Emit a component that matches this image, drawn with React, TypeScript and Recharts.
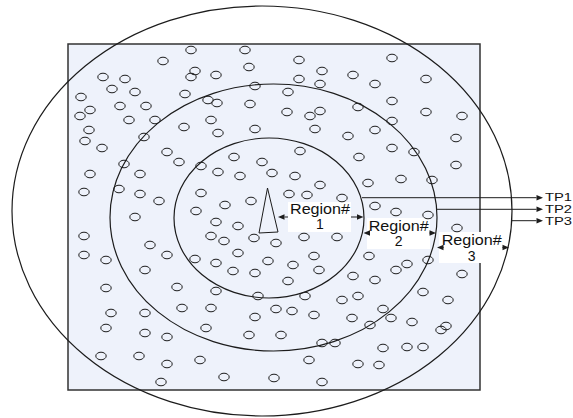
import React from 'react';
import { ScatterChart, Scatter, XAxis, YAxis, ReferenceArea, ReferenceLine } from 'recharts';

const W = 573;
const H = 418;

// Sensor node positions (pixel-like units of the figure)
const nodeX = [
  191, 245, 163, 195, 191, 216, 249, 103, 125, 112, 135, 255, 185, 81, 208, 217, 250, 120, 146, 90,
  80, 129, 155, 211, 184, 255, 89, 218, 144, 85, 102, 167, 179, 234, 262, 124, 201, 218, 240, 272,
  90, 140, 119, 84, 140, 201, 159, 251, 225, 196, 288, 287, 289,
  299, 392, 322, 299, 353, 375, 426, 320, 392, 358, 426, 462, 320, 310, 315, 348, 375, 392, 456, 392,
  414, 300, 359, 456, 295, 320, 368, 401, 432, 307, 342, 375, 396, 428,
  135, 216, 238, 84, 211, 224, 254, 276, 150, 84, 106, 167, 195, 238, 216, 268, 293, 145, 233, 255,
  288, 106, 177, 216, 258, 111, 145, 182, 211, 276, 292, 255, 106, 145, 167, 206, 249, 281, 101, 139,
  167, 200, 224, 274, 161,
  457, 304, 337, 314, 319, 369, 353, 375, 396, 407, 428, 462, 305, 342, 358, 423, 448, 314, 352, 383,
  391, 370, 412, 446, 441, 322, 335, 383, 407, 423, 309, 358, 379, 322,
];
const nodeY = [
  50, 50, 61, 71, 77, 75, 67, 77, 79, 89, 92, 86, 94, 97, 100, 103, 104, 106, 106, 110,
  116, 120, 120, 120, 127, 129, 130, 133, 137, 141, 148, 152, 162, 157, 162, 164, 166, 172, 176, 173,
  174, 174, 189, 192, 194, 193, 201, 201, 205, 211, 92, 112, 194,
  60, 58, 71, 79, 75, 84, 79, 84, 101, 107, 112, 116, 111, 116, 129, 136, 130, 121, 138, 148,
  152, 151, 157, 165, 176, 185, 183, 179, 180, 195, 198, 206, 212, 215,
  217, 222, 226, 236, 236, 241, 238, 243, 245, 255, 260, 255, 259, 253, 263, 261, 265, 270, 271, 273,
  281, 288, 287, 291, 296, 313, 313, 308, 308, 309, 311, 317, 328, 333, 337, 328, 335, 335, 356, 356,
  364, 360, 377, 378, 382,
  228, 237, 237, 256, 270, 256, 276, 280, 270, 264, 260, 274, 296, 300, 296, 292, 300, 315, 318, 309,
  318, 325, 322, 326, 330, 343, 343, 348, 347, 347, 360, 364, 365, 382,
];

// Square field
const fieldX = [68, 480];
const fieldY = [44, 390];

// Region boundaries (inner, middle, outer)
const ringCx = [269, 273.5, 262];
const ringCy = [218, 217.5, 211];
const ringRx = [95, 163.5, 250];
const ringRy = [80, 133.5, 205];

// Sink triangle
const triX = [267.5, 259, 278];
const triY = [188, 233, 232];

// Arrows: TP1, TP2, TP3, Region#1 L/R, Region#2 L/R, Region#3 L/R
const arrowX1 = [362, 437, 512, 288, 351, 367, 430, 439, 503];
const arrowY1 = [197.7, 209.3, 220.7, 217, 217, 233, 233, 247.5, 247.5];
const arrowX2 = [543, 543, 543, 278, 363.5, 363.5, 436, 437, 509];
const arrowY2 = [197.7, 209.3, 220.7, 217, 217, 233, 233, 247.5, 247.5];

// Label boxes
const boxX1 = [288, 367, 439];
const boxX2 = [351, 430, 503];
const boxY1 = [202, 218, 232];
const boxY2 = [232, 249, 263];

// Texts
const textLabel = ['Region#', '1', 'Region#', '2', 'Region#', '3', 'TP1', 'TP2', 'TP3'];
const textX = [320, 320, 398.7, 398.7, 471.7, 471.7, 545, 545, 545];
const textY = [214, 229.3, 230.7, 246, 245, 260.7, 201, 212.5, 224.5];

const nodes = nodeX.map((x, i) => ({ x, y: nodeY[i] }));
const texts = textLabel.map((t, i) => ({ x: textX[i], y: textY[i], t }));

const INK = '#1c1c1c';

const NodeShape = (p: any) => (
  <ellipse cx={p.cx} cy={p.cy} rx={5.2} ry={3.8} fill="none" stroke={INK} strokeWidth={1} />
);

const TextShape = (p: any) => {
  const t: string = p.payload.t;
  const isTP = t.startsWith('TP');
  const isRegion = t === 'Region#';
  return (
    <text
      x={p.cx}
      y={p.cy}
      textAnchor={isTP ? 'start' : 'middle'}
      fontFamily="'Liberation Sans', Arial, sans-serif"
      fontSize={isTP ? 11.5 : 14}
      fill="#111"
      textLength={isTP ? 27 : isRegion ? 60 : undefined}
      lengthAdjust="spacingAndGlyphs"
    >
      {t}
    </text>
  );
};

const EllipseShape = (p: any) => (
  <ellipse
    cx={p.x + p.width / 2}
    cy={p.y + p.height / 2}
    rx={Math.abs(p.width) / 2}
    ry={Math.abs(p.height) / 2}
    fill="none"
    stroke={INK}
    strokeWidth={1.2}
  />
);

const ArrowShape = (p: any) => {
  const { x1, y1, x2, y2 } = p;
  const dx = x2 - x1;
  const dy = y2 - y1;
  const len = Math.sqrt(dx * dx + dy * dy) || 1;
  const ux = dx / len;
  const uy = dy / len;
  const hl = 6.5;
  const hw = 2.8;
  const bx = x2 - ux * hl;
  const by = y2 - uy * hl;
  const pts = `${x2},${y2} ${bx - uy * hw},${by + ux * hw} ${bx + uy * hw},${by - ux * hw}`;
  return (
    <g>
      <line x1={x1} y1={y1} x2={bx} y2={by} stroke={INK} strokeWidth={1} />
      <polygon points={pts} fill={INK} />
    </g>
  );
};

export default function App() {
  return (
    <div style={{ position: 'absolute', left: 0, top: 0, width: W, height: H, background: '#fff' }}>
      <ScatterChart width={W} height={H} margin={{ top: 0, right: 0, bottom: 0, left: 0 }}>
        <XAxis type="number" dataKey="x" domain={[0, W]} hide allowDataOverflow />
        <YAxis type="number" dataKey="y" domain={[0, H]} reversed hide allowDataOverflow />
        <ReferenceArea
          x1={fieldX[0]}
          x2={fieldX[1]}
          y1={fieldY[0]}
          y2={fieldY[1]}
          fill="#eef2fb"
          fillOpacity={1}
          stroke="#333"
          strokeWidth={1.5}
        />
        {ringCx.map((cx, i) => (
          <ReferenceArea
            key={`ring${i}`}
            x1={cx - ringRx[i]}
            x2={cx + ringRx[i]}
            y1={ringCy[i] - ringRy[i]}
            y2={ringCy[i] + ringRy[i]}
            shape={EllipseShape}
          />
        ))}
        {boxX1.map((x1, i) => (
          <ReferenceArea
            key={`box${i}`}
            x1={x1}
            x2={boxX2[i]}
            y1={boxY1[i]}
            y2={boxY2[i]}
            fill="#ffffff"
            fillOpacity={1}
            stroke="none"
          />
        ))}
        <Scatter data={nodes} shape={NodeShape} isAnimationActive={false} />
        {triX.map((x, i) => (
          <ReferenceLine
            key={`tri${i}`}
            segment={[
              { x, y: triY[i] },
              { x: triX[(i + 1) % 3], y: triY[(i + 1) % 3] },
            ]}
            stroke={INK}
            strokeWidth={1}
          />
        ))}
        {arrowX1.map((x1, i) => (
          <ReferenceLine
            key={`arr${i}`}
            segment={[
              { x: x1, y: arrowY1[i] },
              { x: arrowX2[i], y: arrowY2[i] },
            ]}
            shape={ArrowShape}
          />
        ))}
        <Scatter data={texts} shape={TextShape} isAnimationActive={false} />
      </ScatterChart>
    </div>
  );
}
